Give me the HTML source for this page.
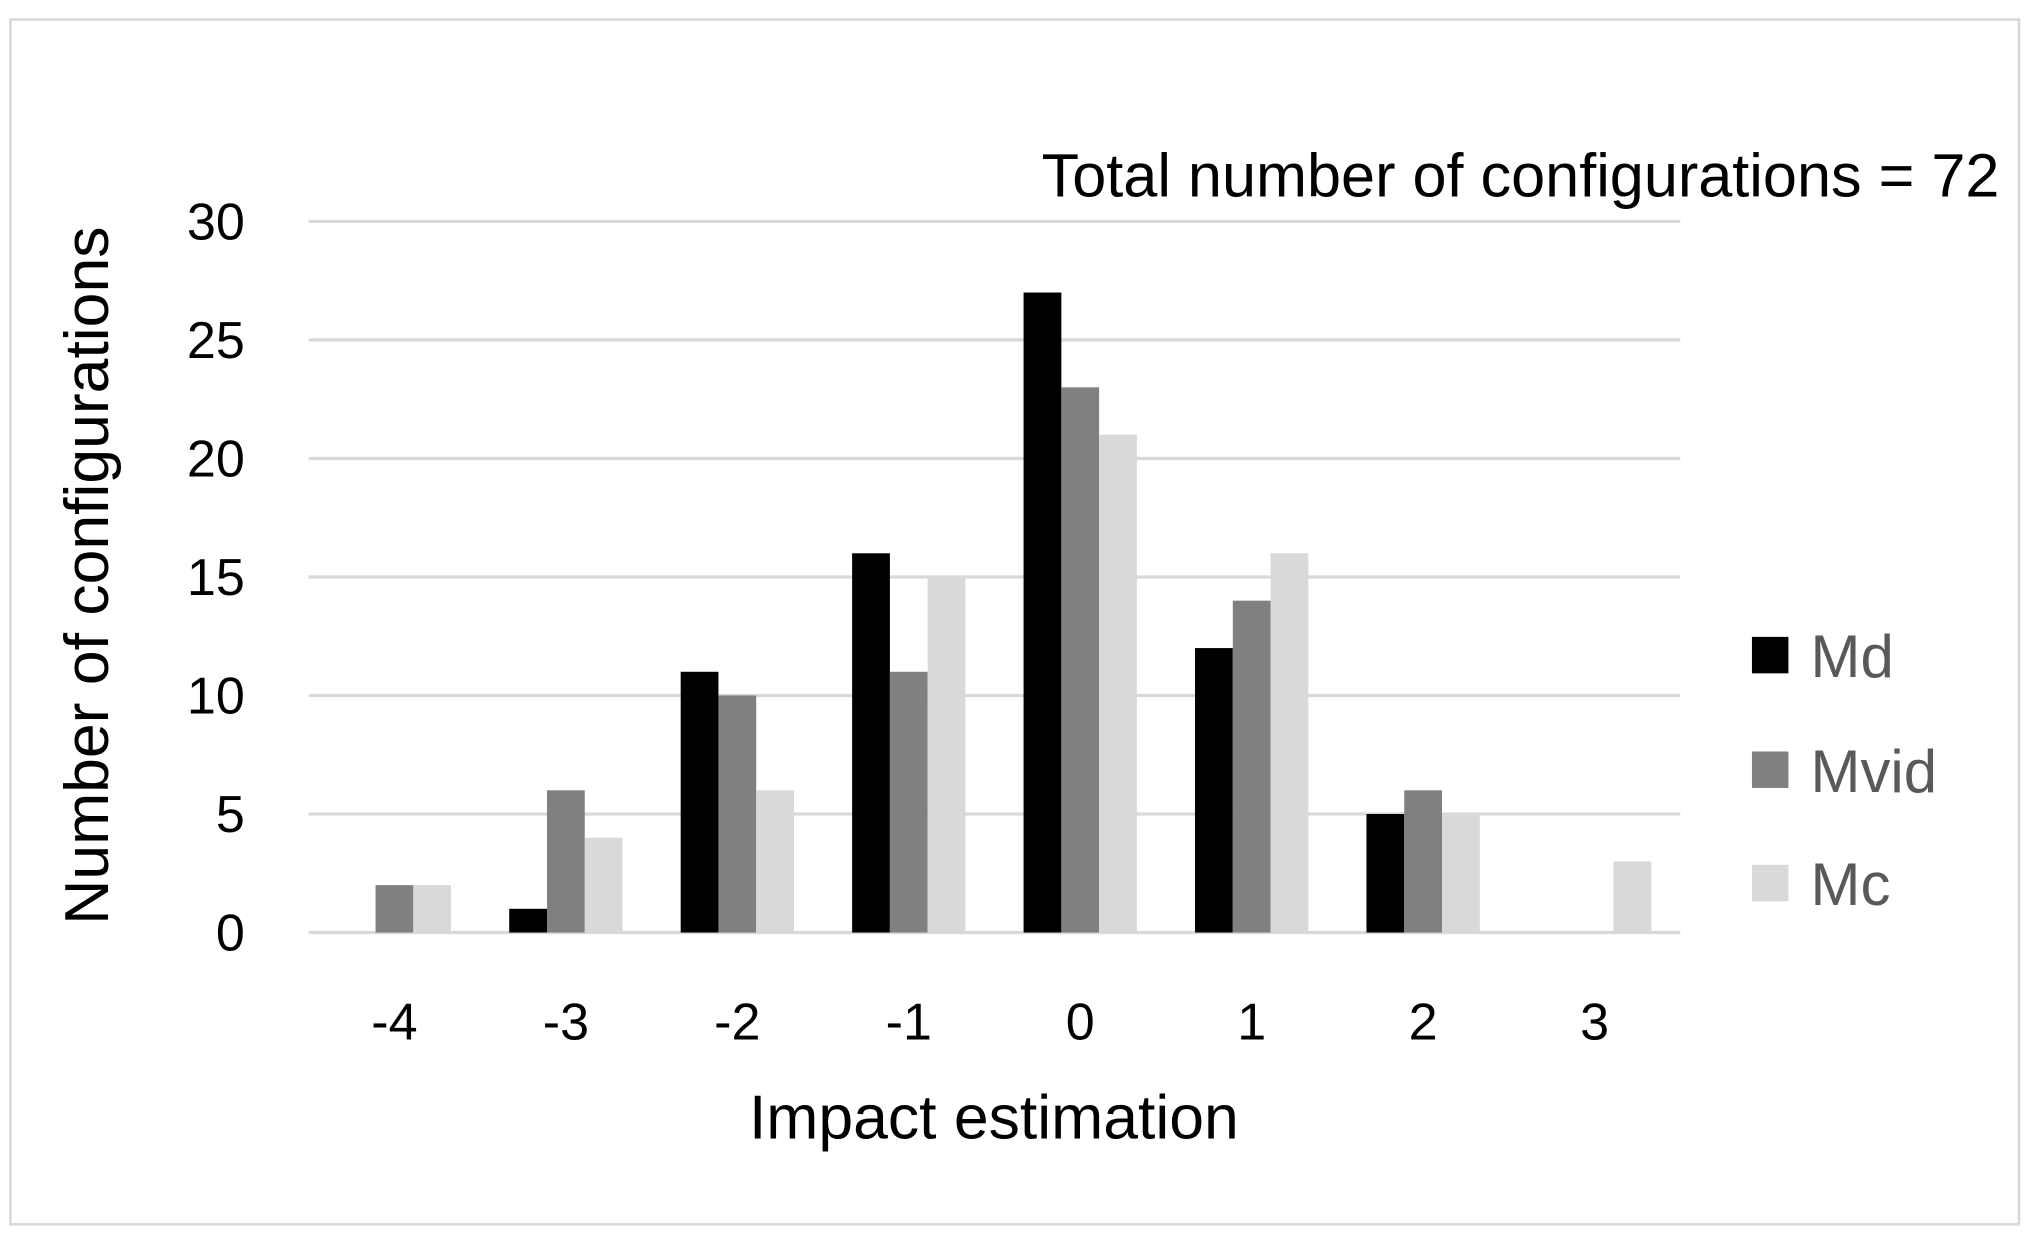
<!DOCTYPE html>
<html><head><meta charset="utf-8"><style>
html,body{margin:0;padding:0;background:#fff}
svg{display:block}
text{font-family:"Liberation Sans",sans-serif;fill:#000}
</style></head><body>
<svg id="chart" width="2032" height="1249" viewBox="0 0 1560 959" preserveAspectRatio="none" xmlns="http://www.w3.org/2000/svg">
<rect x="8" y="15" width="1542" height="925" fill="#fff" stroke="#d9d9d9" stroke-width="2"/>
<g id="grid"></g><g id="bars"></g><g id="xt"></g><g id="yt"></g>
<text x="1535" y="151" font-size="47" text-anchor="end">Total number of configurations = 72</text>
<text x="763" y="874" font-size="48" text-anchor="middle">Impact estimation</text>
<text transform="translate(83,442) rotate(-90)" font-size="48" text-anchor="middle">Number of configurations</text>
<g>
<rect x="1345" y="489" width="28" height="28" fill="#000"/>
<text x="1390" y="520" font-size="46" style="fill:#595959">Md</text>
<rect x="1345" y="577" width="28" height="28" fill="#808080"/>
<text x="1390" y="608" font-size="46" style="fill:#595959">Mvid</text>
<rect x="1345" y="664" width="28" height="28" fill="#d9d9d9"/>
<text x="1390" y="695" font-size="46" style="fill:#595959">Mc</text>
</g>
</svg>
<script>
const categories=["-4","-3","-2","-1","0","1","2","3"];
const mdValues=[0,1,11,16,27,12,5,0];
const mvidValues=[2,6,10,11,23,14,6,0];
const mcValues=[2,4,6,15,21,16,5,3];
const yTicks=[0,5,10,15,20,25,30];
const NS="http://www.w3.org/2000/svg";
const x0=237,x1=1290,yb=716,yt=170,ymax=30;
const cw=(x1-x0)/categories.length, bw=29;
const y=v=>yb-(v/ymax)*(yb-yt);
const cx=i=>x0+cw*(i+0.5);
function mk(t,a,p){const e=document.createElementNS(NS,t);for(const k in a)e.setAttribute(k,a[k]);document.getElementById(p).appendChild(e);return e;}
yTicks.forEach(v=>{
 const l=mk('line',{x1:x0,x2:x1,y1:y(v),y2:y(v),stroke:'#d9d9d9','stroke-width':2.5},'grid');
 
 
 const t=mk('text',{x:188,y:y(v)+14,'font-size':40,'text-anchor':'end'},'yt');
 t.textContent=v;
 
 
});
const series=[["md",mdValues,"#000"],["mvid",mvidValues,"#808080"],["mc",mcValues,"#d9d9d9"]];
categories.forEach((c,i)=>{
 series.forEach((s,j)=>{
  const v=s[1][i];
  const r=mk('rect',{x:cx(i)-1.5*bw+j*bw,y:y(v),width:bw,height:yb-y(v),fill:s[2]},'bars');
  
  
 });
 const t=mk('text',{x:cx(i),y:798,'font-size':40,'text-anchor':'middle'},'xt');
 t.textContent=c;
 
 
});
</script>
</body></html>
